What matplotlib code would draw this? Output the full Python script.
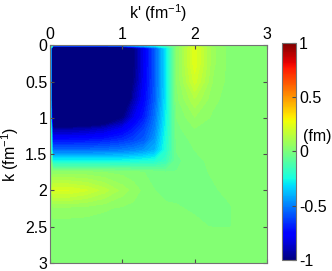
import numpy as np
import matplotlib
matplotlib.use("Agg")
import matplotlib.pyplot as plt
from matplotlib.cm import ScalarMappable
from matplotlib.colors import Normalize

plt.rcParams["font.family"] = ["Liberation Sans", "DejaVu Sans"]
plt.rcParams["mathtext.fontset"] = "custom"
plt.rcParams["mathtext.rm"] = "Liberation Sans"
plt.rcParams["mathtext.default"] = "regular"

# grid nodes in fm^-1 (same for k and k')
nodes = [0, 0.04, 0.25, 0.5, 0.75, 1.0, 1.15, 1.3, 1.45, 1.6, 1.75, 2.0, 2.25, 2.5, 2.55, 3.0]

# V(k, k') in fm: rows are k, columns are k'
v_k000 = [0.005, -0.3, -0.3, -0.3, -0.3, -0.3, -0.3, -0.28, -0.22, -0.12, 0.0, 0.12, 0.04, 0.015, 0.015, 0.015]
v_k004 = [0.005, -1.6, -1.6, -1.6, -1.6, -1.45, -1.02, -0.8, -0.58, -0.31, 0.03, 0.24, 0.07, 0.015, 0.015, 0.015]
v_k025 = [0.005, -1.6, -1.6, -1.6, -1.6, -1.45, -1.02, -0.8, -0.58, -0.31, 0.03, 0.24, 0.07, 0.015, 0.015, 0.015]
v_k050 = [0.005, -1.6, -1.6, -1.6, -1.6, -1.42, -1.0, -0.79, -0.58, -0.31, 0.03, 0.2, 0.06, 0.015, 0.015, 0.015]
v_k075 = [0.005, -1.6, -1.6, -1.6, -1.5, -1.25, -0.93, -0.76, -0.57, -0.3, 0.02, 0.12, 0.04, 0.015, 0.015, 0.015]
v_k100 = [0.005, -1.35, -1.35, -1.32, -1.2, -1.0, -0.82, -0.7, -0.53, -0.28, 0.0, 0.06, 0.025, 0.015, 0.015, 0.015]
v_k115 = [0.005, -0.95, -0.95, -0.93, -0.88, -0.8, -0.72, -0.63, -0.5, -0.26, -0.01, 0.03, 0.02, 0.015, 0.015, 0.015]
v_k130 = [0.005, -0.74, -0.74, -0.73, -0.71, -0.67, -0.63, -0.58, -0.46, -0.24, -0.02, 0.01, 0.015, 0.015, 0.015, 0.015]
v_k145 = [0.005, -0.54, -0.54, -0.54, -0.53, -0.51, -0.49, -0.46, -0.4, -0.22, -0.03, 0.0, 0.012, 0.015, 0.015, 0.015]
v_k160 = [0.005, -0.25, -0.25, -0.25, -0.25, -0.25, -0.24, -0.23, -0.22, -0.16, -0.04, -0.01, 0.008, 0.015, 0.015, 0.015]
v_k175 = [0.005, 0.04, 0.04, 0.04, 0.03, 0.02, 0.01, 0.0, -0.01, -0.03, -0.03, -0.012, 0.004, 0.012, 0.015, 0.015]
v_k200 = [0.005, 0.22, 0.22, 0.19, 0.14, 0.08, 0.05, 0.02, 0.0, -0.01, -0.012, -0.012, -0.005, 0.01, 0.015, 0.015]
v_k225 = [0.005, 0.05, 0.05, 0.045, 0.035, 0.025, 0.02, 0.015, 0.01, 0.006, 0.004, -0.006, -0.01, -0.003, 0.015, 0.015]
v_k250 = [0.005, 0.015, 0.015, 0.015, 0.015, 0.015, 0.015, 0.015, 0.015, 0.015, 0.015, 0.01, -0.003, -0.002, 0.015, 0.015]
v_k255 = [0.005, 0.015, 0.015, 0.015, 0.015, 0.015, 0.015, 0.015, 0.015, 0.015, 0.015, 0.015, 0.015, 0.015, 0.015, 0.015]
v_k300 = [0.005, 0.015, 0.015, 0.015, 0.015, 0.015, 0.015, 0.015, 0.015, 0.015, 0.015, 0.015, 0.015, 0.015, 0.015, 0.015]

ticks_k = [0, 0.5, 1, 1.5, 2, 2.5, 3]
ticks_kp = [0, 1, 2, 3]
cbar_ticks = [-1, -0.5, 0, 0.5, 1]

V = np.array([v_k000, v_k004, v_k025, v_k050, v_k075, v_k100, v_k115, v_k130,
              v_k145, v_k160, v_k175, v_k200, v_k225, v_k250, v_k255, v_k300])
KP, K = np.meshgrid(nodes, nodes)

fig = plt.figure(figsize=(3.32, 2.71), dpi=100)
ax = fig.add_axes([0.151, 0.03, 0.653, 0.803])

levels = np.linspace(-1, 1, 65)
ax.contourf(KP, K, V, levels=levels, cmap="jet", extend="both")
ax.set_xlim(0, 3)
ax.set_ylim(3, 0)

ax.xaxis.tick_top()
ax.xaxis.set_label_position("top")
ax.set_xticks(ticks_kp)
ax.set_xticklabels([f"{t:g}" for t in ticks_kp])
ax.set_yticks(ticks_k)
ax.set_yticklabels([f"{t:g}" for t in ticks_k])
ax.tick_params(direction="in", length=3, labelsize=11.5, pad=2, color="0.3",
               top=True, bottom=True, left=True, right=True)
ax.set_xlabel("k' (fm$^{-1}$)", fontsize=11.5, labelpad=6)
ax.set_ylabel("k (fm$^{-1}$)", fontsize=11.5)
ax.yaxis.set_label_coords(-0.135, 0.5)
for s in ax.spines.values():
    s.set_color("0.45")
    s.set_linewidth(0.8)

cax = fig.add_axes([0.849, 0.041, 0.043, 0.80])
sm = ScalarMappable(norm=Normalize(-1, 1), cmap="jet")
cb = fig.colorbar(sm, cax=cax, ticks=cbar_ticks)
cb.ax.set_yticklabels([f"{t:g}" for t in cbar_ticks])
cb.ax.tick_params(direction="in", length=3, labelsize=11.5, pad=2, color="0.3")
cb.outline.set_edgecolor("0.45")
cb.outline.set_linewidth(0.8)
fig.text(0.913, 0.495, "(fm)", fontsize=11.5, ha="left", va="center")

fig.savefig("out.png", dpi=100)
